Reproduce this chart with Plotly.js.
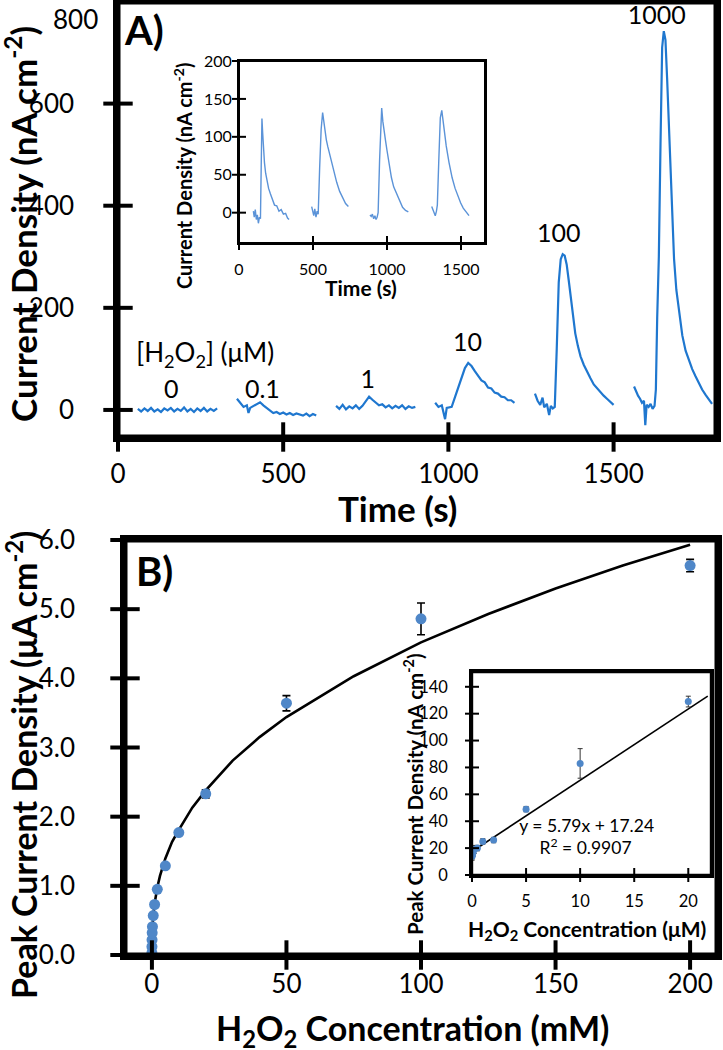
<!DOCTYPE html>
<html>
<head>
<meta charset="utf-8">
<script src="https://cdn.plot.ly/plotly-3.0.1.min.js"></script>
<style>html,body{margin:0;padding:0;background:#fff;}#chart{width:723px;height:1050px;}</style>
</head>
<body>
<div id="chart"></div>
<script>
// ---------- Panel A main: amperometric trace (time s, current density nA cm-2) ----------
const segA0_t = [60,70,80,90,100,110,120,130,140,150,160,170,180,190,200,210,220,230,240,250,260,270,280,290,300];
const segA0_i = [2,-3,3,-2,4,-3,1,-4,3,-1,4,-3,2,-2,5,-3,2,-4,3,-2,4,-3,2,-2,3];
const segA1_t = [360,370,380,390,395,400,410,420,430,440,450,460,470,480,490,500,510,520,530,540,550,560,570,580,590,600];
const segA1_i = [22,14,6,9,-6,4,8,11,15,9,4,-2,-6,-4,-8,-5,-9,-6,-10,-7,-9,-11,-7,-12,-8,-11];
const segA2_t = [660,670,680,690,700,710,720,730,740,750,760,770,780,790,800,810,820,830,840,850,860,870,880,890,900];
const segA2_i = [8,2,10,1,7,3,9,2,8,16,26,20,14,9,11,5,9,3,8,4,9,2,7,4,6];
const segA3_t = [960,970,980,990,995,1000,1010,1020,1030,1040,1050,1060,1070,1080,1090,1100,1110,1120,1130,1140,1150,1160,1170,1180,1190,1200];
const segA3_i = [14,6,9,-18,4,5,6,25,45,65,82,92,86,76,66,58,54,44,42,34,32,26,25,19,19,14];
const segA4_t = [1262,1270,1278,1285,1290,1298,1305,1310,1316,1322,1328,1334,1340,1346,1352,1358,1364,1370,1377,1384,1392,1400,1410,1420,1430,1440,1450,1460,1470,1480,1490,1500];
const segA4_i = [32,18,10,24,5,12,-10,8,3,6,120,250,295,305,302,285,255,222,185,150,125,105,88,74,62,50,42,36,28,22,16,10];
const segA5_t = [1562,1568,1574,1580,1586,1592,1596,1600,1606,1612,1618,1624,1628,1632,1637,1642,1647,1652,1657,1662,1668,1676,1683,1690,1700,1708,1718,1728,1738,1748,1758,1768,1778,1788,1798];
const segA5_i = [46,36,28,22,14,18,-30,10,6,12,2,8,40,180,300,520,710,742,725,650,546,400,296,235,180,146,116,96,80,66,52,40,30,20,12];

// concentration labels above the peaks (µM), with their data positions
const concLabels = ['[H<sub>2</sub>O<sub>2</sub>] (μM)','0','0.1','1','10','100','1000'];
const concLabT = [264,161,437,756,1058,1334,1631];
const concLabY = [106,35,35,55,128,341,768];

// ---------- Panel A inset: repeated pulses ----------
const inA0_t = [97,103,110,117,124,131,138,145,150,155,160,166,172,180,190,200,212,225,240,255,270,285,300,315,328,338];
const inA0_i = [2,-6,4,-9,-3,-14,-6,-8,60,124,105,82,66,52,40,32,25,19,10,9,2,4,-2,-1,-7,-9];
const inA1_t = [491,498,505,512,520,528,535,545,555,565,572,580,590,600,615,630,645,660,680,700,720,739];
const inA1_i = [8,0,-4,5,-6,2,-2,60,110,132,122,108,96,87,75,62,50,40,28,19,12,8];
const inA2_t = [885,893,901,910,918,926,933,940,950,958,964,972,980,990,1000,1015,1030,1045,1066,1085,1105,1125,1144];
const inA2_i = [-3,-5,-2,-8,-4,-9,-6,0,70,125,138,120,105,95,82,62,46,34,24,14,7,3,1];
const inA3_t = [1302,1310,1318,1326,1334,1340,1350,1360,1370,1378,1388,1400,1419,1440,1460,1477,1497,1515,1535,1554];
const inA3_i = [8,4,-2,-4,2,10,70,125,135,120,103,88,66,46,32,22,13,6,0,-4];

// ---------- Panel B main: peak current density vs concentration ----------
const concB = [0.001,0.01,0.05,0.1,0.2,0.5,1,2,5,10,20,50,100,200];
const peakB = [0.03,0.12,0.22,0.32,0.41,0.57,0.73,0.95,1.29,1.77,2.33,3.64,4.86,5.63];
const errB  = [0.02,0.02,0.02,0.02,0.02,0.02,0.02,0.02,0.03,0.03,0.06,0.11,0.23,0.09];
const fitB_x = [0,0.001,0.01,0.05,0.1,0.25,0.5,1,2,3,5,7.5,10,15,20,30,40,50,75,100,125,150,175,200];
const fitB_y = [0,0.05,0.122,0.23,0.30,0.43,0.566,0.743,0.975,1.143,1.396,1.637,1.81,2.13,2.38,2.81,3.15,3.44,4.03,4.52,4.93,5.30,5.63,5.93];

// ---------- Panel B inset: linear range ----------
const concBi = [0.01,0.05,0.1,0.2,0.5,1,2,5,10,20];
const peakBi = [14,15,17,19,20,25,26,49,83,129];
const errBi  = [3,3,3,3,2,2,2,2,11,4];
const fitBi_x = [0,21.8];
const fitBi_y = [17.5,133];
const eqText = ['y = 5.79x + 17.24','R<sup>2</sup> = 0.9907'];
const eqX = [10.6,10.5], eqY = [35,18.6];

// ---------- tick values ----------
const tA_x=[0,500,1000,1500], tA_y=[0,200,400,600,800], tAi_x=[0,500,1000,1500], tAi_y=[0,50,100,150,200];
const tB_x=[0,50,100,150,200], tB_y=[0,1,2,3,4,5,6], tBi_x=[0,5,10,15,20], tBi_y=[0,20,40,60,80,100,120,140];

// ---------- helpers ----------
const W=723,H=1050;
const px=v=>v/W, py=v=>1-v/H;
const FONT='Lato, "Open Sans", sans-serif';
const blk='#000';
const F=(s)=>({family:FONT,size:s,color:blk});
const rA_x=[0,1810], rA_y=[-53,799], rAi_x=[0,1662], rAi_y=[-40,200], rB_x=[-10,210], rB_y=[0,6], rBi_x=[0,22.1], rBi_y=[0,151];

const traces = [];
[[segA0_t,segA0_i],[segA1_t,segA1_i],[segA2_t,segA2_i],[segA3_t,segA3_i],[segA4_t,segA4_i],[segA5_t,segA5_i]].forEach(([t,v])=>
  traces.push({x:t,y:v,xaxis:'x',yaxis:'y',mode:'lines',line:{color:'#1f77cf',width:2.2}}));
[[inA0_t,inA0_i],[inA1_t,inA1_i],[inA2_t,inA2_i],[inA3_t,inA3_i]].forEach(([t,v])=>
  traces.push({x:t,y:v,xaxis:'x2',yaxis:'y2',mode:'lines',line:{color:'#5b93d8',width:1.4}}));
traces.push(
 {x:fitB_x,y:fitB_y,xaxis:'x3',yaxis:'y3',mode:'lines',line:{color:blk,width:2.6}},
 {x:concB,y:peakB,xaxis:'x3',yaxis:'y3',mode:'markers',marker:{color:'#4f87c8',size:11},
  error_y:{type:'data',array:errB,visible:true,color:blk,thickness:1.6,width:4}},
 {x:fitBi_x,y:fitBi_y,xaxis:'x4',yaxis:'y4',mode:'lines',line:{color:blk,width:1.6}},
 {x:concBi,y:peakBi,xaxis:'x4',yaxis:'y4',mode:'markers',marker:{color:'#4f87c8',size:7},
  error_y:{type:'data',array:errBi,visible:true,color:'#333',thickness:1,width:2.5}},
 {x:concLabT,y:concLabY,text:concLabels,xaxis:'x',yaxis:'y',mode:'text',textposition:'middle center',
  textfont:{family:FONT,color:blk,size:[26,25,25,25,25,25,25]},cliponaxis:false},
 {x:eqX,y:eqY,text:eqText,xaxis:'x4',yaxis:'y4',mode:'text',textposition:'middle center',textfont:F(17.5),cliponaxis:false}
);

// panel frames (drawn along the axis ranges) and crossing tick marks (line markers at the tick values)
function frame(xa,ya,rx,ry,w){traces.push({x:[rx[0],rx[1],rx[1],rx[0],rx[0]],y:[ry[0],ry[0],ry[1],ry[1],ry[0]],xaxis:xa,yaxis:ya,mode:'lines',line:{color:blk,width:w},cliponaxis:false,hoverinfo:'skip'});}
function tickX(xa,ya,vals,y0,size,w){traces.push({x:vals,y:vals.map(()=>y0),xaxis:xa,yaxis:ya,mode:'markers',marker:{symbol:'line-ns',size:size,color:blk,line:{color:blk,width:w}},cliponaxis:false,hoverinfo:'skip'});}
function tickY(xa,ya,vals,x0,size,w){traces.push({x:vals.map(()=>x0),y:vals,xaxis:xa,yaxis:ya,mode:'markers',marker:{symbol:'line-ew',size:size,color:blk,line:{color:blk,width:w}},cliponaxis:false,hoverinfo:'skip'});}
frame('x','y',rA_x,rA_y,5); tickX('x','y',tA_x,rA_y[0],21,4); tickY('x','y',tA_y,rA_x[0],21,4);
frame('x2','y2',rAi_x,rAi_y,2); tickX('x2','y2',tAi_x,rAi_y[0],10,2); tickY('x2','y2',tAi_y,rAi_x[0],10,2);
frame('x3','y3',rB_x,rB_y,5); tickX('x3','y3',tB_x,rB_y[0],21,4); tickY('x3','y3',tB_y,rB_x[0],21,4);
frame('x4','y4',rBi_x,rBi_y,2.4); tickX('x4','y4',tBi_x,rBi_y[0],10,2); tickY('x4','y4',tBi_y,rBi_x[0],10,2);

function ax(o){return Object.assign({showgrid:false,zeroline:false,showline:true,linecolor:blk,mirror:true,ticks:'',tickfont:F(26),tickmode:'linear',tick0:0},o);}
const step=a=>a[1]-a[0];

const layout = {
 width:W,height:H,margin:{l:0,r:0,t:0,b:0},paper_bgcolor:'#fff',plot_bgcolor:'#fff',showlegend:false,
 xaxis: ax({domain:[px(118),px(716)],anchor:'y',range:rA_x,dtick:step(tA_x),linewidth:4.5,ticklabelstandoff:10}),
 yaxis: ax({domain:[py(437),py(2)],anchor:'x',range:rA_y,dtick:step(tA_y),linewidth:4.5,ticklabelstandoff:34}),
 xaxis2: ax({domain:[px(239),px(485)],anchor:'y2',range:rAi_x,dtick:step(tAi_x),linewidth:2,tickfont:F(16),ticklabelstandoff:11}),
 yaxis2: ax({domain:[py(243),py(61)],anchor:'x2',range:rAi_y,dtick:step(tAi_y),linewidth:2,tickfont:F(16),ticklabelstandoff:2}),
 xaxis3: ax({domain:[px(125),px(717)],anchor:'y3',range:rB_x,dtick:step(tB_x),linewidth:4.5,ticklabelstandoff:2}),
 yaxis3: ax({domain:[py(955),py(540)],anchor:'x3',range:rB_y,dtick:step(tB_y),tickformat:'.1f',linewidth:4.5,ticklabelstandoff:40}),
 xaxis4: ax({domain:[px(472),px(711)],anchor:'y4',range:rBi_x,dtick:step(tBi_x),linewidth:2.5,tickfont:F(16.5),ticklabelstandoff:9}),
 yaxis4: ax({domain:[py(875),py(672)],anchor:'x4',range:rBi_y,dtick:step(tBi_y),linewidth:2.5,tickfont:F(16.5),ticklabelstandoff:18}),
 annotations: []
};

function ann(text,x,y,size,opts){layout.annotations.push(Object.assign({text:text,x:x,y:y,xref:'paper',yref:'paper',showarrow:false,xanchor:'center',yanchor:'middle',font:F(size)},opts||{}));}
ann('800',px(100),py(19),26,{xanchor:'right'});
ann('<b>Current Density (nA cm<sup>-2</sup>)</b>',px(21),py(224),35,{textangle:-90});
ann('<b>Time (s)</b>',px(397),py(508),35);
ann('<b>Current Density (nA cm<sup>-2</sup>)</b>',px(183),py(176),20,{textangle:-90});
ann('<b>Time (s)</b>',px(361),py(288),21);
ann('<b>Peak Current Density (μA cm<sup>-2</sup>)</b>',px(22),py(765),34,{textangle:-90});
ann('<b>H<sub>2</sub>O<sub>2</sub> Concentration (mM)</b>',px(412),py(1030),34);
ann('<b>Peak Current Density (nA cm<sup>-2</sup>)</b>',px(413),py(794),20.5,{textangle:-90});
ann('<b>H<sub>2</sub>O<sub>2</sub> Concentration (μM)</b>',px(587),py(930),21);
ann('<b>A)</b>',px(144),py(30),40);
ann('<b>B)</b>',px(154),py(571),40);

Plotly.newPlot('chart',traces,layout,{displayModeBar:false});
</script>
</body>
</html>
